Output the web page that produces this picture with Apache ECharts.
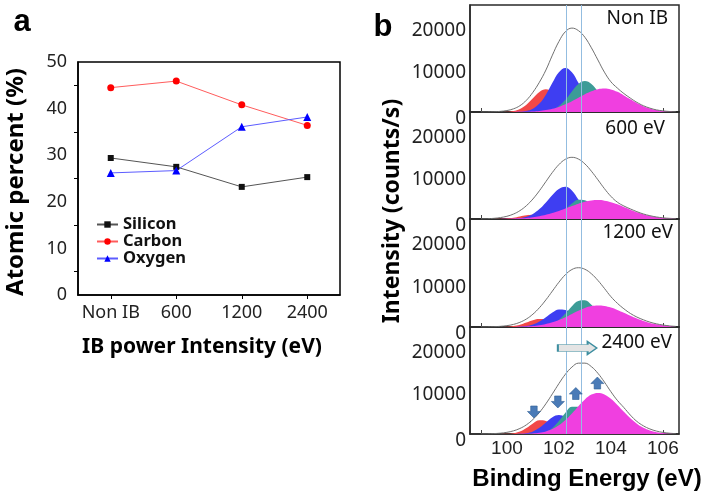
<!DOCTYPE html>
<html><head><meta charset="utf-8">
<script src="https://cdn.jsdelivr.net/npm/echarts@6/dist/echarts.min.js"></script>
<style>html,body{margin:0;padding:0;background:#fff}#c{width:711px;height:499px}</style>
</head><body><div id="c"></div>
<script>
// ---------- Panel a data ----------
const categories = ['Non IB', '600', '1200', '2400'];
const silicon = [29.4, 27.5, 23.2, 25.3];
const carbon  = [44.5, 45.9, 40.8, 36.4];
const oxygen  = [26.2, 26.7, 36.1, 38.2];

// ---------- Panel b data ----------
const energy = [99,99.25,99.5,99.75,100,100.25,100.5,100.75,101,101.25,101.5,101.75,102,102.25,102.5,102.75,103,103.25,103.5,103.75,104,104.25,104.5,104.75,105,105.25,105.5,105.75,106,106.25,106.5];
const bindingTicks = [100, 102, 104, 106];
const bindingMinorTicks = [99, 106];
const intensityTicks = [0, 10000, 20000];
const panelLabels = ['Non IB', '600 eV', '1200 eV', '2400 eV'];
const refLines = [102.3, 102.87];

// Non IB
const nonIB_env = [0,20,60,150,350,750,1500,2800,4700,7100,10000,13550,16800,19150,20000,19400,17800,15300,12400,9500,7200,5700,4400,3300,2300,1500,920,510,270,130,55];
const nonIB_red = [0,0,0,10,60,240,730,1750,3280,4770,5400,4770,3280,1750,730,240,60,10,0,0,0,0,0,0,0,0,0,0,0,0,0];
const nonIB_blue = [0,0,0,0,0,10,70,260,790,2010,4140,6950,9470,10500,9470,6950,4140,2010,790,260,70,10,0,0,0,0,0,0,0,0,0];
const nonIB_teal = [0,0,0,0,0,0,0,0,10,50,180,560,1410,2920,4900,6670,7400,6670,4900,2920,1410,560,180,50,10,0,0,0,0,0,0];
const nonIB_mag = [0,0,0,0,0,10,30,60,130,250,450,760,1210,1820,2560,3400,4230,4940,5430,5600,5390,4800,3960,3030,2130,1400,850,470,250,120,50];
// 600 eV
const ib600_env = [30,70,160,340,650,1170,1990,3180,4770,6730,8920,11100,12970,14240,14700,14290,13130,11390,9350,7250,5400,4000,3100,2400,1750,1200,790,490,280,160,85];
const ib600_red = [0,0,10,40,140,320,610,880,1000,880,610,320,140,40,10,0,0,0,0,0,0,0,0,0,0,0,0,0,0,0,0];
const ib600_blue = [0,0,0,0,20,70,200,540,1210,2360,3960,5730,7150,7700,6800,4670,2500,1040,340,90,20,0,0,0,0,0,0,0,0,0,0];
const ib600_teal = [0,0,0,0,0,0,0,0,0,30,120,420,1110,2290,3680,4610,4490,3410,2020,930,330,90,20,0,0,0,0,0,0,0,0];
const ib600_mag = [0,0,10,20,40,80,150,260,420,670,990,1410,1920,2490,3080,3640,4100,4400,4500,4370,4020,3490,2860,2220,1620,1120,730,450,260,150,80];
// 1200 eV
const ib1200_env = [10,30,70,160,320,610,1110,1890,3030,4550,6410,8490,10570,12360,13570,14000,13630,12570,11000,9120,7170,5600,4300,3200,2350,1700,1150,750,470,270,140];
const ib1200_red = [0,0,0,15,60,210,530,1040,1590,1890,1750,1270,710,310,110,30,0,0,0,0,0,0,0,0,0,0,0,0,0,0,0];
const ib1200_blue = [0,0,0,0,0,15,60,210,570,1270,2310,3430,4130,4040,3230,2090,1100,470,160,50,0,0,0,0,0,0,0,0,0,0,0];
const ib1200_teal = [0,0,0,0,0,0,0,0,0,70,250,720,1680,3180,4920,6160,6300,5230,3530,1940,870,310,90,20,0,0,0,0,0,0,0];
const ib1200_mag = [0,0,0,0,10,20,60,120,220,410,690,1100,1660,2330,3090,3850,4500,4940,5100,4970,4600,4040,3370,2670,2010,1440,970,630,390,220,120];
// 2400 eV
const ib2400_env = [20,40,100,200,400,750,1320,2190,3460,5130,7210,9570,12010,14240,15940,16880,16890,16050,14470,12390,10080,8000,6300,4500,3000,1950,1200,700,380,190,90];
const ib2400_red = [0,0,0,10,40,190,600,1430,2520,3250,3070,2140,1090,410,110,20,0,0,0,0,0,0,0,0,0,0,0,0,0,0,0];
const ib2400_blue = [0,0,0,0,0,10,50,200,610,1460,2730,3970,4500,3970,2730,1460,610,200,50,10,0,0,0,0,0,0,0,0,0,0,0];
const ib2400_teal = [0,0,0,0,0,0,0,0,30,150,530,1450,3070,5060,6490,6490,5060,3070,1450,530,150,30,0,0,0,0,0,0,0,0,0];
const ib2400_mag = [0,0,0,0,0,0,20,50,130,300,610,1180,2070,3320,4900,6640,8240,9390,9800,9430,8400,6930,5290,3730,2440,1480,830,430,210,90,40];
// arrows in 2400 eV panel [energy, intensity]
const arrowsDown = [[101.04, 5240], [101.96, 7630]];
const arrowsUp = [[102.65, 9650], [103.48, 12150]];
const shiftArrow = [102.71, 20500];

const panels = [
  {env: nonIB_env, red: nonIB_red, blue: nonIB_blue, teal: nonIB_teal, mag: nonIB_mag},
  {env: ib600_env, red: ib600_red, blue: ib600_blue, teal: ib600_teal, mag: ib600_mag},
  {env: ib1200_env, red: ib1200_red, blue: ib1200_blue, teal: ib1200_teal, mag: ib1200_mag},
  {env: ib2400_env, red: ib2400_red, blue: ib2400_blue, teal: ib2400_teal, mag: ib2400_mag}
];

const chart = echarts.init(document.getElementById('c'), null, {renderer: 'canvas'});
const sans = '"Noto Sans", "Open Sans", sans-serif';
const arial = '"Liberation Sans", Arial, sans-serif';

const grids = [{left: 78, top: 62, width: 262, height: 233, show: true, borderColor: '#000', borderWidth: 1.5, backgroundColor: 'transparent'}];
const panelTops = [5, 112, 219, 327];
const panelHeights = [107, 107, 108, 107];
panelTops.forEach((t, i) => grids.push({left: 470, top: t, width: 209, height: panelHeights[i], show: true, borderColor: '#2a2a2a', borderWidth: 1.5, backgroundColor: 'transparent'}));

const xAxes = [{
  type: 'category', gridIndex: 0, data: categories, boundaryGap: true,
  axisLine: {lineStyle: {color: '#000', width: 1.5}},
  axisTick: {show: true, alignWithLabel: true, inside: false, length: 4, lineStyle: {color: '#000'}},
  axisLabel: {interval: 0, hideOverlap: false, fontFamily: sans, fontSize: 18, color: '#222', margin: 9}
}];
const yAxes = [{
  type: 'value', gridIndex: 0, min: 0, max: 50, interval: 10,
  axisLine: {show: true, lineStyle: {color: '#000', width: 1.5}},
  axisTick: {show: false},
  minorTick: {show: true, splitNumber: 2, length: 4, lineStyle: {color: '#000'}},
  splitLine: {show: false},
  axisLabel: {fontFamily: sans, fontSize: 18, color: '#222', margin: 11}
}];
for (let i = 0; i < 4; i++) {
  xAxes.push({
    type: 'value', gridIndex: i + 1, min: 98.58, max: 106.62,
    axisLine: {show: true, lineStyle: {color: '#2a2a2a', width: 1.5}},
    axisTick: {show: true, inside: true, length: 4, customValues: bindingMinorTicks, lineStyle: {color: '#444'}},
    splitLine: {show: false},
    axisLabel: {show: i === 3, customValues: bindingTicks, fontFamily: arial, fontSize: 19, color: '#222', margin: 5}
  });
  yAxes.push({
    type: 'value', gridIndex: i + 1, min: 0, max: 25500,
    axisLine: {show: true, lineStyle: {color: '#2a2a2a', width: 1.5}},
    axisTick: {show: false},
    splitLine: {show: false},
    axisLabel: {
      customValues: intensityTicks, fontFamily: sans, fontSize: 19, color: '#222', margin: 4,
      formatter: v => v === 0 ? '{z|0}' : '{n|' + v + '}',
      rich: {
        z: {padding: [14, 0, 0, 0], fontFamily: sans, fontSize: 19, color: '#222'},
        n: {padding: [5, 0, 0, 0], fontFamily: sans, fontSize: 19, color: '#222'}
      }
    }
  });
}

const series = [
  {name: 'Silicon', type: 'line', xAxisIndex: 0, yAxisIndex: 0, data: silicon, symbol: 'rect', symbolSize: 6,
   itemStyle: {color: '#111'}, lineStyle: {color: '#555', width: 1}},
  {name: 'Carbon', type: 'line', xAxisIndex: 0, yAxisIndex: 0, data: carbon, symbol: 'circle', symbolSize: 7,
   itemStyle: {color: '#f00'}, lineStyle: {color: '#ff5c5c', width: 1}},
  {name: 'Oxygen', type: 'line', xAxisIndex: 0, yAxisIndex: 0, data: oxygen, symbol: 'triangle', symbolSize: 8,
   itemStyle: {color: '#00f'}, lineStyle: {color: '#5c5cff', width: 1}}
];

const compColors = {red: '#f24848', blue: '#3e3ef2', teal: '#3c9c97', mag: '#f03fe0'};
panels.forEach((p, i) => {
  ['red', 'blue', 'teal', 'mag'].forEach(k => {
    series.push({
      type: 'line', xAxisIndex: i + 1, yAxisIndex: i + 1, smooth: 0.4, showSymbol: false, silent: true,
      data: energy.map((e, j) => [e, p[k][j]]),
      lineStyle: {width: 0}, itemStyle: {color: compColors[k]},
      areaStyle: {color: compColors[k], opacity: 1}
    });
  });
  const env = {
    type: 'line', xAxisIndex: i + 1, yAxisIndex: i + 1, smooth: 0.4, showSymbol: false, silent: true,
    data: energy.map((e, j) => [e, p.env[j]]),
    lineStyle: {color: '#707070', width: 1}, itemStyle: {color: '#707070'}, z: 3,
    markLine: {silent: true, symbol: 'none', label: {show: false},
      lineStyle: {color: '#93bde0', width: 1, type: 'solid'},
      data: refLines.map(x => ({xAxis: x}))}
  };
  if (i === 3) {
    const down = 'path://M3,0L9,0L9,5L12,5L6,11L0,5L3,5Z';
    const up = 'path://M6,0L12,6L9,6L9,11L3,11L3,6L0,6Z';
    const arrowStyle = {color: '#4a7bb7', borderColor: '#2f5f96', borderWidth: 0.6};
    env.markPoint = {
      silent: true, label: {show: false},
      data: [
        ...arrowsDown.map(c => ({coord: c, symbol: down, symbolSize: [13, 12], itemStyle: arrowStyle})),
        ...arrowsUp.map(c => ({coord: c, symbol: up, symbolSize: [13, 12], itemStyle: arrowStyle})),
        {coord: shiftArrow, symbol: 'path://M0,3L29,3L29,0L38,6.5L29,13L29,10L0,10Z', symbolSize: [39, 13],
         itemStyle: {color: '#e4e4e4', borderColor: '#3d8ea0', borderWidth: 1.2}}
      ]
    };
  }
  series.push(env);
});

const graphic = [
  {type: 'text', x: 22, y: 22, style: {text: 'a', fontFamily: arial, fontWeight: 'bold', fontSize: 31, fill: '#000', align: 'center', verticalAlign: 'middle'}},
  {type: 'text', x: 383, y: 27, style: {text: 'b', fontFamily: arial, fontWeight: 'bold', fontSize: 31, fill: '#000', align: 'center', verticalAlign: 'middle'}},
  {type: 'text', x: 16, y: 182, rotation: Math.PI / 2, style: {text: 'Atomic percent (%)', fontFamily: sans, fontWeight: 'bold', fontSize: 24, fill: '#000', align: 'center', verticalAlign: 'middle'}},
  {type: 'text', x: 202, y: 347, style: {text: 'IB power Intensity (eV)', fontFamily: sans, fontWeight: 'bold', fontSize: 21, fill: '#000', align: 'center', verticalAlign: 'middle'}},
  {type: 'text', x: 392, y: 211, rotation: Math.PI / 2, style: {text: 'Intensity (counts/s)', fontFamily: sans, fontWeight: 'bold', fontSize: 23, fill: '#000', align: 'center', verticalAlign: 'middle'}},
  {type: 'text', x: 587, y: 479, style: {text: 'Binding Energy (eV)', fontFamily: arial, fontWeight: 'bold', fontSize: 24, fill: '#000', align: 'center', verticalAlign: 'middle'}}
];
const labelPos = [[668, 19], [665, 129], [673, 233], [672, 343]];
panelLabels.forEach((t, i) => graphic.push({type: 'text', x: labelPos[i][0], y: labelPos[i][1],
  style: {text: t, fontFamily: sans, fontSize: 19, fill: '#111', align: 'right', verticalAlign: 'middle'}}));

chart.setOption({
  animation: false,
  backgroundColor: '#fff',
  grid: grids,
  xAxis: xAxes,
  yAxis: yAxes,
  legend: {
    data: ['Silicon', 'Carbon', 'Oxygen'], orient: 'vertical', left: 96, top: 216,
    itemWidth: 21, itemHeight: 8, itemGap: 0, padding: 0,
    textStyle: {fontFamily: sans, fontWeight: 'bold', fontSize: 16.5, color: '#111', lineHeight: 15.5}
  },
  series: series,
  graphic: graphic
});
</script>
</body></html>
